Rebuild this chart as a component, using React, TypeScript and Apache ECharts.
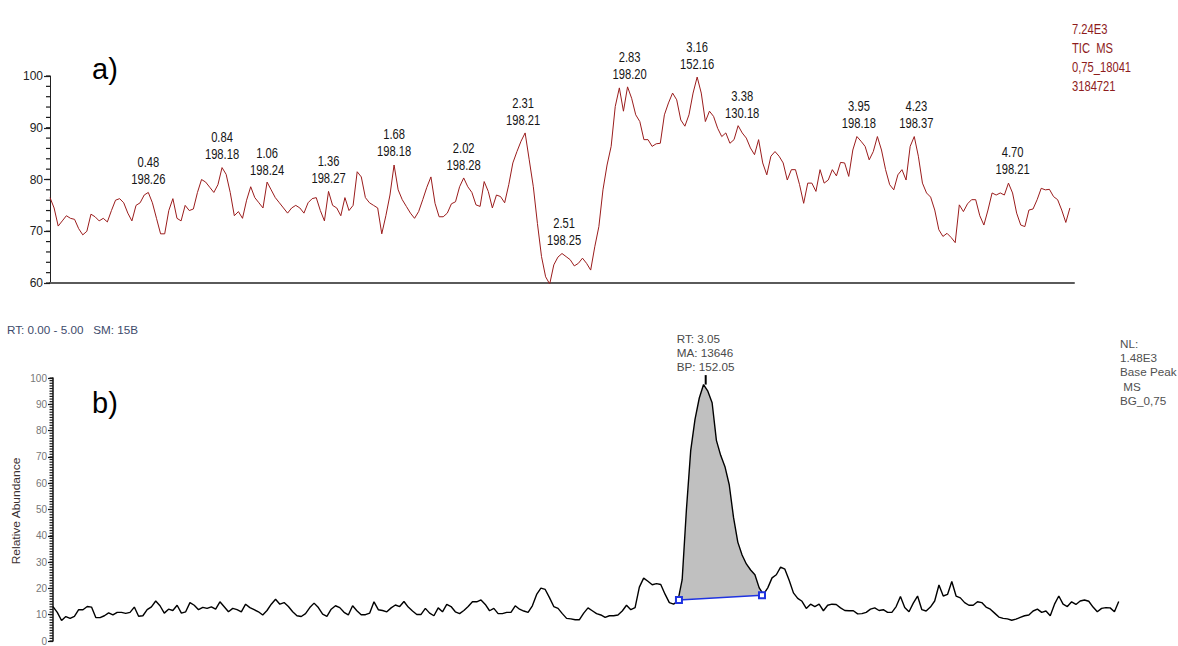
import { useEffect, useRef } from "react";
import * as echarts from "echarts";

// Both traces are sampled every 0.02 min starting at RT 0.00
const RT_STEP = 0.02;

// a) TIC trace, relative abundance (%)
const ticValues = [
  76.5, 74.5, 71.0, 72.0, 73.0, 72.5, 72.3, 70.5, 69.3, 70.0,
  73.3, 72.8, 72.0, 72.5, 71.8, 74.0, 76.0, 76.3, 75.5, 73.5,
  72.0, 75.0, 75.5, 77.0, 77.5, 75.5, 72.5, 69.5, 69.5, 74.0,
  76.3, 72.5, 72.0, 75.0, 74.0, 74.3, 77.5, 80.0, 79.5, 78.5,
  77.5, 79.0, 82.3, 81.0, 77.5, 73.0, 73.8, 72.5, 76.0, 78.6,
  76.5, 75.5, 74.5, 79.5, 78.0, 76.5, 75.5, 74.5, 73.5, 74.5,
  75.0, 74.5, 73.5, 75.5, 76.3, 76.5, 74.0, 72.0, 77.7, 75.0,
  74.5, 73.0, 76.5, 74.0, 75.0, 81.5, 80.5, 76.5, 75.5, 75.0,
  74.5, 69.5, 73.0, 77.0, 82.8, 78.0, 76.1, 74.8, 73.5, 72.5,
  73.8, 76.1, 78.5, 80.5, 75.4, 72.8, 72.8, 73.5, 75.3, 75.7,
  78.6, 80.3, 78.6, 77.5, 75.1, 74.8, 79.6, 77.7, 74.5, 77.0,
  76.7, 75.5, 79.0, 83.2, 85.4, 87.4, 89.0, 83.8, 78.6, 71.5,
  65.1, 61.2, 59.8, 63.5, 65.0, 65.7, 65.1, 64.5, 63.3, 63.8,
  64.8, 63.8, 62.5, 67.0, 70.9, 78.0, 82.8, 86.4, 94.1, 97.7,
  93.2, 97.9, 95.7, 92.5, 91.2, 87.7, 87.7, 86.4, 86.9, 87.0,
  92.5, 94.8, 96.7, 95.4, 91.5, 90.3, 92.5, 96.7, 99.8, 96.7,
  91.2, 93.2, 92.2, 89.9, 88.3, 89.0, 87.0, 87.7, 90.4, 89.0,
  88.0, 86.1, 84.8, 87.7, 83.2, 80.9, 84.5, 85.4, 84.5, 83.2,
  79.9, 81.9, 81.9, 79.0, 75.4, 79.3, 79.3, 77.7, 81.9, 79.3,
  79.9, 81.9, 80.7, 83.3, 83.2, 80.6, 85.7, 88.3, 87.4, 86.4,
  83.8, 85.4, 88.3, 85.7, 81.9, 79.0, 78.0, 80.9, 81.9, 79.9,
  86.4, 88.3, 84.5, 79.3, 77.4, 76.6, 74.1, 70.3, 69.0, 69.6,
  68.8, 67.8, 75.1, 73.8, 75.3, 76.1, 76.1, 73.0, 71.2, 74.1,
  77.4, 77.0, 77.4, 77.0, 79.3, 77.4, 73.5, 71.2, 70.9, 74.1,
  74.3, 76.1, 78.3, 78.0, 78.1, 76.7, 76.1, 74.1, 71.7, 74.5,
];

// b) Base peak trace, relative abundance (%)
const basePeakValues = [
  13.1, 10.9, 7.8, 9.3, 8.6, 9.4, 11.9, 11.9, 13.1, 12.9,
  8.9, 8.9, 9.6, 10.7, 9.9, 10.9, 10.9, 10.5, 10.9, 12.9,
  9.4, 9.6, 11.9, 13.0, 15.2, 13.4, 10.6, 12.1, 11.6, 13.6,
  10.6, 11.1, 14.6, 13.6, 11.9, 12.8, 12.4, 13.0, 12.1, 14.9,
  13.0, 11.1, 12.4, 11.9, 11.1, 14.0, 12.7, 11.9, 11.1, 9.9,
  11.6, 14.0, 15.9, 14.0, 14.6, 13.1, 11.1, 9.6, 9.3, 10.4,
  12.7, 14.4, 12.7, 10.2, 9.4, 12.1, 13.4, 12.7, 10.9, 9.9,
  13.4, 11.5, 10.0, 10.0, 10.6, 14.9, 11.9, 11.6, 11.1, 12.6,
  13.7, 13.1, 15.0, 12.9, 11.4, 10.1, 10.1, 12.4, 10.6, 9.6,
  12.6, 11.1, 13.9, 13.1, 11.1, 10.4, 11.6, 13.1, 14.9, 14.9,
  15.6, 13.9, 11.5, 12.4, 10.4, 10.4, 10.9, 10.9, 13.4, 12.1,
  11.4, 10.9, 13.4, 17.7, 20.1, 19.6, 16.5, 13.1, 12.4, 10.4,
  8.6, 8.4, 8.1, 8.1, 10.6, 12.6, 11.5, 10.4, 9.9, 9.0,
  9.6, 9.6, 9.9, 11.4, 13.6, 11.9, 12.7, 20.5, 23.9, 22.7,
  21.4, 21.8, 21.5, 17.8, 14.6, 14.0, 15.2, 23.3, 50.1, 72.5,
  84.3, 92.4, 97.5, 95.0, 90.6, 76.3, 70.6, 66.3, 59.4, 47.0,
  37.6, 32.7, 29.3, 27.0, 25.2, 20.2, 17.7, 20.2, 24.0, 25.2,
  28.1, 27.3, 23.1, 18.3, 16.2, 15.1, 12.4, 14.0, 13.1, 14.0,
  11.5, 13.6, 14.0, 13.9, 12.6, 11.6, 11.5, 11.5, 10.3, 10.4,
  10.9, 12.1, 12.6, 11.6, 11.9, 10.9, 10.9, 13.1, 16.9, 12.7,
  11.1, 14.4, 17.1, 11.9, 11.4, 12.9, 15.2, 21.3, 17.1, 17.7,
  22.6, 17.1, 16.4, 14.6, 13.6, 13.6, 14.9, 14.6, 12.9, 12.1,
  10.6, 9.1, 8.6, 8.4, 7.9, 8.3, 9.0, 9.6, 9.9, 11.4,
  12.1, 10.9, 11.4, 9.6, 14.0, 17.1, 14.0, 13.1, 14.9, 13.9,
  15.2, 15.6, 15.1, 12.9, 11.1, 12.4, 12.7, 12.6, 11.1, 15.0,
];

// Annotated TIC peaks: retention time, m/z, and apex height
const ticPeakRT = [0.48, 0.84, 1.06, 1.36, 1.68, 2.02, 2.31, 2.51, 2.83, 3.16, 3.38, 3.95, 4.23, 4.7];
const ticPeakMz = ["198.26", "198.18", "198.24", "198.27", "198.18", "198.28", "198.21", "198.25", "198.20", "152.16", "130.18", "198.18", "198.37", "198.21"];
const ticPeakHeight = [77.5, 82.4, 79.3, 77.7, 83.0, 80.3, 89.0, 65.7, 97.9, 99.8, 90.4, 88.3, 88.3, 79.5];

// Integrated peak in the base peak trace: baseline end points [RT, %]
const peakStart = [2.925, 15.6];
const peakEnd = [3.313, 17.4];
const apexRT = 3.05;
const apexTop = 97.5;
const apexMarkerTop = 101.1;
const apexInfo = ["RT: 3.05", "MA: 13646", "BP: 152.05"];

const ticHeader = ["7.24E3", "TIC  MS", "0,75_18041", "3184721"];
const basePeakHeader = ["NL:", "1.48E3", "Base Peak", " MS", "BG_0,75"];
const rangeText = "RT: 0.00 - 5.00   SM: 15B";
const yTitle = "Relative Abundance";

const SANS = "'Liberation Sans', Arial, sans-serif";
// horizontal squeeze / stretch used to get a narrow face and a spaced-out small face
const NARROW_X = 0.8;
const WIDE_X = 1.17;

const toPairs = (vals: number[]) => vals.map((v, i) => [+(i * RT_STEP).toFixed(2), v]);

// Minor tick marks on a y axis, drawn as short outward strokes at x = 0
const minorTicks = (axisIndex: number, min: number, max: number, step: number, length: number) => {
  const values: number[][] = [];
  for (let v = min; v <= max + 1e-9; v += step) values.push([0, +v.toFixed(3)]);
  return {
    type: "custom", xAxisIndex: axisIndex, yAxisIndex: axisIndex, clip: false, silent: true,
    data: values,
    renderItem: (_params: any, api: any) => {
      const p = api.coord([api.value(0), api.value(1)]);
      return {
        type: "line",
        shape: { x1: p[0] - length, y1: p[1], x2: p[0], y2: p[1] },
        style: { stroke: "#1a1a1a", lineWidth: 1.2 },
      };
    },
    z: 6,
  };
};

export default function App() {
  const ref = useRef<HTMLDivElement>(null);

  useEffect(() => {
    if (!ref.current) return;
    const chart = echarts.init(ref.current, null, { renderer: "svg" });

    const ticData = toPairs(ticValues);
    const bpData = toPairs(basePeakValues);
    const peakOutline = [
      peakStart,
      ...bpData.filter((p) => p[0] > peakStart[0] && p[0] < peakEnd[0]),
      peakEnd,
    ];

    chart.setOption({
      animation: false,
      backgroundColor: "#ffffff",
      grid: [
        { left: 50, right: 104, top: 76, height: 207 },
        { left: 53, right: 55, top: 378, height: 268 },
      ],
      xAxis: [
        {
          gridIndex: 0, type: "value", min: 0, max: 5,
          axisLine: { show: true, onZero: false, lineStyle: { color: "#5a5a5a", width: 2 } },
          axisTick: { show: false }, axisLabel: { show: false }, splitLine: { show: false },
        },
        { gridIndex: 1, type: "value", min: 0, max: 5, show: false },
      ],
      yAxis: [
        {
          gridIndex: 0, type: "value", position: "left", min: 60, max: 100, interval: 10,
          axisLine: { show: true, onZero: false, lineStyle: { color: "#222", width: 1 } },
          axisTick: { show: true, length: 6, lineStyle: { color: "#222", width: 1.2 } },
          axisLabel: { fontSize: 12, color: "#222", margin: 7, fontFamily: SANS },
          splitLine: { show: false },
        },
        {
          gridIndex: 1, type: "value", position: "left", min: 0, max: 100, interval: 10,
          axisLine: { show: true, onZero: false, lineStyle: { color: "#111", width: 1.5 } },
          axisTick: { show: true, length: 5, lineStyle: { color: "#111", width: 1.2 } },
          axisLabel: { fontSize: 10, color: "#777", margin: 6, fontFamily: SANS },
          splitLine: { show: false },
        },
      ],
      series: [
        minorTicks(0, 60, 100, 2, 4),
        minorTicks(1, 0, 100, 1, 3.5),
        {
          type: "line", xAxisIndex: 0, yAxisIndex: 0, data: ticData,
          showSymbol: false, symbol: "none",
          lineStyle: { color: "#9a1c1c", width: 1 }, z: 3,
        },
        {
          type: "custom", xAxisIndex: 1, yAxisIndex: 1, data: [[apexRT, apexTop]],
          renderItem: (_params: any, api: any) => ({
            type: "polygon",
            shape: { points: peakOutline.map((p) => api.coord(p)) },
            style: { fill: "#c0c0c0", stroke: "none" },
          }),
          z: 1,
        },
        {
          type: "line", xAxisIndex: 1, yAxisIndex: 1, data: bpData,
          showSymbol: false, symbol: "none",
          lineStyle: { color: "#000", width: 1.4 }, z: 3,
        },
        {
          type: "line", xAxisIndex: 1, yAxisIndex: 1, data: [peakStart, peakEnd],
          symbol: "emptyRect", symbolSize: 6, showSymbol: true,
          itemStyle: { color: "#1f33e0", borderWidth: 1.2 },
          lineStyle: { color: "#1f33e0", width: 1.5 }, z: 4,
        },
        {
          type: "line", xAxisIndex: 1, yAxisIndex: 1, clip: false,
          data: [[apexRT, apexTop], [apexRT, apexMarkerTop]],
          symbol: "none", lineStyle: { color: "#000", width: 2 }, z: 5,
        },
      ],
    });

    // Peak annotations placed from the axes' own scales
    const peakLabels = ticPeakRT.map((rt, i) => {
      const [px, py] = chart.convertToPixel({ xAxisIndex: 0, yAxisIndex: 0 }, [rt, ticPeakHeight[i]]);
      return {
        type: "text", x: px, y: py - 4, scaleX: NARROW_X, z: 10,
        style: {
          text: `${rt.toFixed(2)}\n${ticPeakMz[i]}`,
          fontSize: 14, lineHeight: 17, fill: "#151515", fontFamily: SANS,
          align: "center", verticalAlign: "bottom",
        },
      };
    });
    const [ax, ay] = chart.convertToPixel({ xAxisIndex: 1, yAxisIndex: 1 }, [apexRT, apexMarkerTop]);

    chart.setOption({
      graphic: [
        ...peakLabels,
        {
          type: "text", x: ax - 29, y: ay - 1, scaleX: WIDE_X, z: 10,
          style: {
            text: apexInfo.join("\n"), fontSize: 10, lineHeight: 14, fill: "#4a4a4a",
            fontFamily: SANS, align: "left", verticalAlign: "bottom",
          },
        },
        { type: "text", x: 92, y: 54, style: { text: "a)", fontSize: 29, fill: "#000", fontFamily: SANS } },
        { type: "text", x: 92, y: 388, style: { text: "b)", fontSize: 29, fill: "#000", fontFamily: SANS } },
        {
          type: "text", x: 1072, y: 20, scaleX: NARROW_X,
          style: { text: ticHeader.join("\n"), fontSize: 14, lineHeight: 19, fill: "#8e1c1c", fontFamily: SANS },
        },
        {
          type: "text", x: 1120, y: 337, scaleX: WIDE_X,
          style: { text: basePeakHeader.join("\n"), fontSize: 10, lineHeight: 14.3, fill: "#505050", fontFamily: SANS },
        },
        {
          type: "text", x: 7, y: 325, scaleX: WIDE_X,
          style: { text: rangeText, fontSize: 10, fill: "#3d4b6b", fontFamily: SANS },
        },
        {
          type: "text", x: 16, y: 511, rotation: Math.PI / 2, scaleX: 1.2,
          style: { text: yTitle, fontSize: 10, fill: "#3a3030", fontFamily: SANS, align: "center", verticalAlign: "middle" },
        },
      ],
    });

    return () => chart.dispose();
  }, []);

  return (
    <div
      ref={ref}
      style={{ position: "absolute", left: 0, top: 0, width: 1178, height: 646, background: "#fff" }}
    />
  );
}
